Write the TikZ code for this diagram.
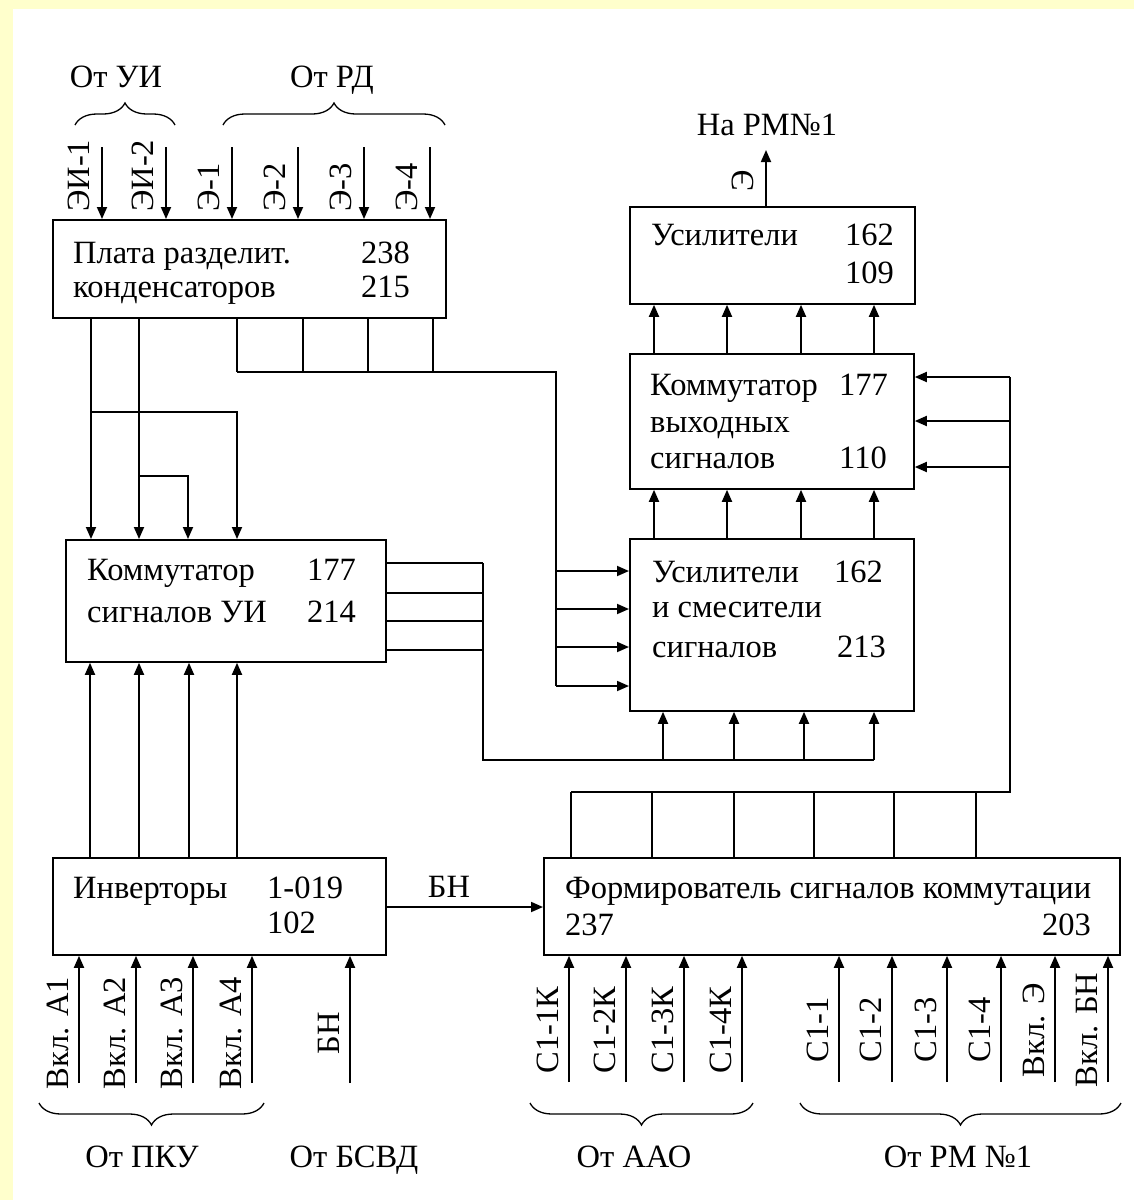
\documentclass[tikz,border=0pt]{standalone}
\usepackage{fontspec}
\setmainfont{Liberation Serif}
\usetikzlibrary{arrows.meta,positioning,calc,decorations.pathreplacing}
\definecolor{bgyellow}{RGB}{255,255,204}
\tikzset{
  blk/.style 2 args={draw,line width=1.8pt,anchor=north west,inner sep=0pt,minimum width=#1,minimum height=#2},
  txt/.style={anchor=base west,inner sep=0pt,font=\fontsize{32.5}{36}\selectfont},
  vtxt/.style={txt,rotate=90},
  ln/.style={line width=1.8pt},
  arr/.style={ln,-{Triangle[length=12pt,width=10pt]}},
  brc/.style={decorate,decoration={brace,amplitude=22pt},line width=1.3pt},
}
\begin{document}
\begin{tikzpicture}[x=1pt,y=-1pt]
 \fill[bgyellow] (0,0) rectangle (1134,1200); \fill[white] (13,9) rectangle (1134,1200);
 \useasboundingbox (0,0) rectangle (1134,1200);
 % blocks
 \node[blk={393}{98}] (plata) at (52,219){};
 \node[blk={285}{97}] (usil) at (629,206){};
 \node[blk={284}{135}] (kvs) at (629,353){};
 \node[blk={284}{172}] (usm) at (629,538){};
 \node[blk={320}{122}] (kui) at (65,539){};
 \node[blk={333}{97}] (inv) at (52,857){};
 \node[blk={576}{97}] (form) at (543,857){};
 % block texts
 \node[txt] (pl1) at (73,263){Плата разделит.}; \node[txt] (pl2) at (73,297){конденсаторов};
 \node[txt] (pl3) at (361,263){238}; \node[txt] (pl4) at (361,297){215};
 \node[txt] (us1) at (651,245){Усилители}; \node[txt] (us2) at (845,245){162}; \node[txt] (us3) at (845,283){109};
 \node[txt] (kv1) at (650,395){Коммутатор}; \node[txt] (kv2) at (839,395){177};
 \node[txt] (kv3) at (650,432){выходных}; \node[txt] (kv4) at (650,468){сигналов}; \node[txt] (kv5) at (839,468){110};
 \node[txt] (um1) at (652,582){Усилители}; \node[txt] (um2) at (834,582){162};
 \node[txt] (um3) at (652,617){и смесители}; \node[txt] (um4) at (652,657){сигналов}; \node[txt] (um5) at (837,657){213};
 \node[txt] (ku1) at (87,580){Коммутатор}; \node[txt] (ku2) at (307,580){177};
 \node[txt] (ku3) at (87,622){сигналов УИ}; \node[txt] (ku4) at (307,622){214};
 \node[txt] (iv1) at (73,898){Инверторы}; \node[txt] (iv2) at (267,898){1-019}; \node[txt] (iv3) at (267,933){102};
 \node[txt] (fm1) at (565,898){Формирователь сигналов коммутации};
 \node[txt] (fm2) at (565,935){237}; \node[txt,anchor=base east] (fm3) at (1091,935){203};
 % inputs of the plate
 \foreach \x/\t [count=\i] in {102/ЭИ-1,166/ЭИ-2,232/Э-1,298/Э-2,364/Э-3,430/Э-4}{
   \coordinate (e\i) at (\x,147);
   \draw[arr] (e\i) -- (\x,0 |- plata.north);
   \node[vtxt] (le\i) at (\x-13,212){\t};}
 \draw[brc] (75,125) -- (175,125); \draw[brc] (223,125) -- (445,125);
 \node[txt,anchor=base] (ui) at (116,87){От УИ}; \node[txt,anchor=base] (rd) at (332,87){От РД};
 % plate -> commutator UI
 \draw[arr] (91,0 |- plata.south) -- (91,0 |- kui.north);
 \draw[arr] (139,0 |- plata.south) -- (139,0 |- kui.north);
 \draw[arr] (91,412) -- (237,412) -- (237,0 |- kui.north);
 \draw[arr] (139,476) -- (188,476) -- (188,0 |- kui.north);
 % plate -> amplifiers and mixers
 \foreach \x in {237,303,368,433}{\draw[ln] (\x,0 |- plata.south) -- (\x,372);}
 \draw[ln] (237,372) -- (556,372) -- (556,686);
 \foreach \y in {571,609,647,686}{\draw[arr] (556,\y) -- (usm.west |- 0,\y);}
 % commutator UI -> amplifiers and mixers
 \foreach \y in {563,593,621,650}{\draw[ln] (kui.east |- 0,\y) -- (483,\y);}
 \draw[ln] (483,563) -- (483,760) -- (874,760);
 \foreach \x in {663,734,804,874}{\draw[arr] (\x,760) -- (\x,0 |- usm.south);}
 % chain upwards
 \foreach \x in {654,727,801,874}{
   \draw[arr] (\x,0 |- usm.north) -- (\x,0 |- kvs.south);
   \draw[arr] (\x,0 |- kvs.north) -- (\x,0 |- usil.south);}
 \coordinate (out) at (766,150);
 \draw[arr] (766,0 |- usil.north) -- (out);
 \node[vtxt] (le) at (753,192){Э};
 \node[txt,anchor=base] (rm1) at (767,135){На РМ№1};
 % switching former -> output commutator
 \foreach \x in {571,652,734,814,894,976}{\draw[ln] (\x,0 |- form.north) -- (\x,792);}
 \draw[ln] (571,792) -- (1010,792) -- (1010,377);
 \foreach \y in {377,421,467}{\draw[arr] (1010,\y) -- (kvs.east |- 0,\y);}
 % inverters
 \foreach \x in {90,139,189,237}{\draw[arr] (\x,0 |- inv.north) -- (\x,0 |- kui.south);}
 \draw[arr] (inv.east |- 0,907) -- (form.west |- 0,907);
 \node[txt,anchor=base] (bn) at (449,897){БН};
 % bottom inputs
 \foreach \x/\t [count=\i] in {79/Вкл. А1,136/Вкл. А2,193/Вкл. А3,252/Вкл. А4,350/БН}{
   \coordinate (a\i) at (\x,1083);
   \draw[arr] (a\i) -- (\x,0 |- inv.south);
   \node[vtxt,anchor=base] (la\i) at (\x-11,1033){\t};}
 \foreach \x/\t [count=\i] in {569/С1-1К,626/С1-2К,684/С1-3К,742/С1-4К,839/С1-1,892/С1-2,947/С1-3,1001/С1-4,1055/Вкл. Э,1108/Вкл. БН}{
   \coordinate (c\i) at (\x,1082);
   \draw[arr] (c\i) -- (\x,0 |- form.south);
   \node[vtxt,anchor=base] (lc\i) at (\x-11,1030){\t};}
 \draw[brc] (264,1103) -- (39,1103); \draw[brc] (753,1103) -- (530,1103); \draw[brc] (1121,1103) -- (800,1103);
 \node[txt,anchor=base] (pku) at (142,1167){От ПКУ}; \node[txt,anchor=base] (bsvd) at (354,1167){От БСВД};
 \node[txt,anchor=base] (aao) at (634,1167){От ААО}; \node[txt,anchor=base] (rm2) at (958,1167){От РМ №1};
\end{tikzpicture}
\end{document}
